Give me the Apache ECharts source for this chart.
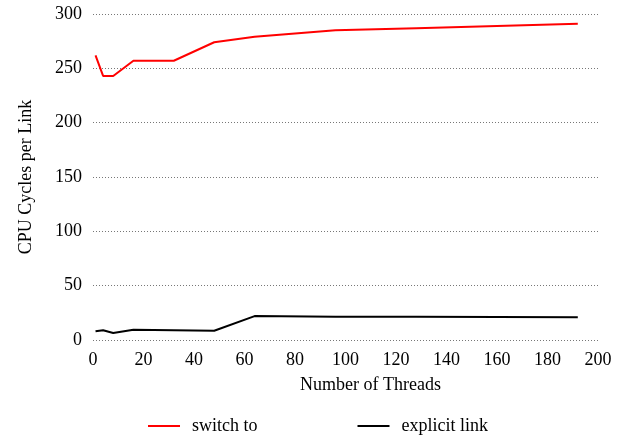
<!DOCTYPE html>
<html>
<head>
<meta charset="utf-8">
<script src="https://cdn.jsdelivr.net/npm/echarts@6/dist/echarts.min.js"></script>
<style>html,body{margin:0;padding:0;background:#fff}#c{width:630px;height:438px}</style>
</head>
<body>
<div id="c"></div>
<script>
var threads = [1, 4, 8, 16, 32, 48, 64, 96, 128, 192];
var switchTo = [262, 243, 243, 257, 257, 274, 279, 285, 287, 291];
var explicitLink = [8, 9, 6.5, 9.5, 9, 8.5, 22, 21.5, 21.5, 21];
var seriesNames = ['switch to', 'explicit link'];
var xTicks = [0, 20, 40, 60, 80, 100, 120, 140, 160, 180, 200];
var yTicks = [0, 50, 100, 150, 200, 250, 300];

function pairs(xs, ys) { return xs.map(function (x, i) { return [x, ys[i]]; }); }

var font = 'Liberation Serif';
var chart = echarts.init(document.getElementById('c'));
chart.setOption({
  animation: false,
  textStyle: { fontFamily: font },
  grid: { left: 93, right: 32, top: 14, bottom: 98 },
  legend: {
    top: 412,
    left: 143,
    itemGap: 100,
    itemWidth: 32,
    itemHeight: 10,
    icon: 'path://M0,4 L32,4 L32,6 L0,6 Z',
    textStyle: { fontFamily: font, fontSize: 18, color: '#000', padding: [0, 0, 0, 7] },
    data: seriesNames
  },
  xAxis: {
    type: 'value',
    min: xTicks[0], max: xTicks[xTicks.length - 1], interval: 20,
    name: 'Number of Threads',
    nameLocation: 'middle',
    nameGap: 36,
    nameTextStyle: { fontFamily: font, fontSize: 18, color: '#000', padding: [0, 0, 0, 50] },
    axisLine: { show: false },
    axisTick: { show: false },
    splitLine: { show: false },
    axisLabel: { fontFamily: font, fontSize: 18, color: '#000', margin: 11 }
  },
  yAxis: {
    type: 'value',
    min: yTicks[0], max: yTicks[yTicks.length - 1], interval: 50,
    name: 'CPU Cycles per Link',
    nameLocation: 'middle',
    nameGap: 58,
    nameTextStyle: { fontFamily: font, fontSize: 18, color: '#000' },
    axisLine: { show: false },
    axisTick: { show: false },
    splitLine: { show: true, lineStyle: { type: [1, 2], color: '#777', width: 1 } },
    axisLabel: { fontFamily: font, fontSize: 18, color: '#000', margin: 11 }
  },
  series: [
    { name: seriesNames[0], type: 'line', data: pairs(threads, switchTo), showSymbol: false, symbol: 'none',
      lineStyle: { color: '#ff0000', width: 2 }, itemStyle: { color: '#ff0000' } },
    { name: seriesNames[1], type: 'line', data: pairs(threads, explicitLink), showSymbol: false, symbol: 'none',
      lineStyle: { color: '#000000', width: 2 }, itemStyle: { color: '#000000' } }
  ]
});
</script>
</body>
</html>
